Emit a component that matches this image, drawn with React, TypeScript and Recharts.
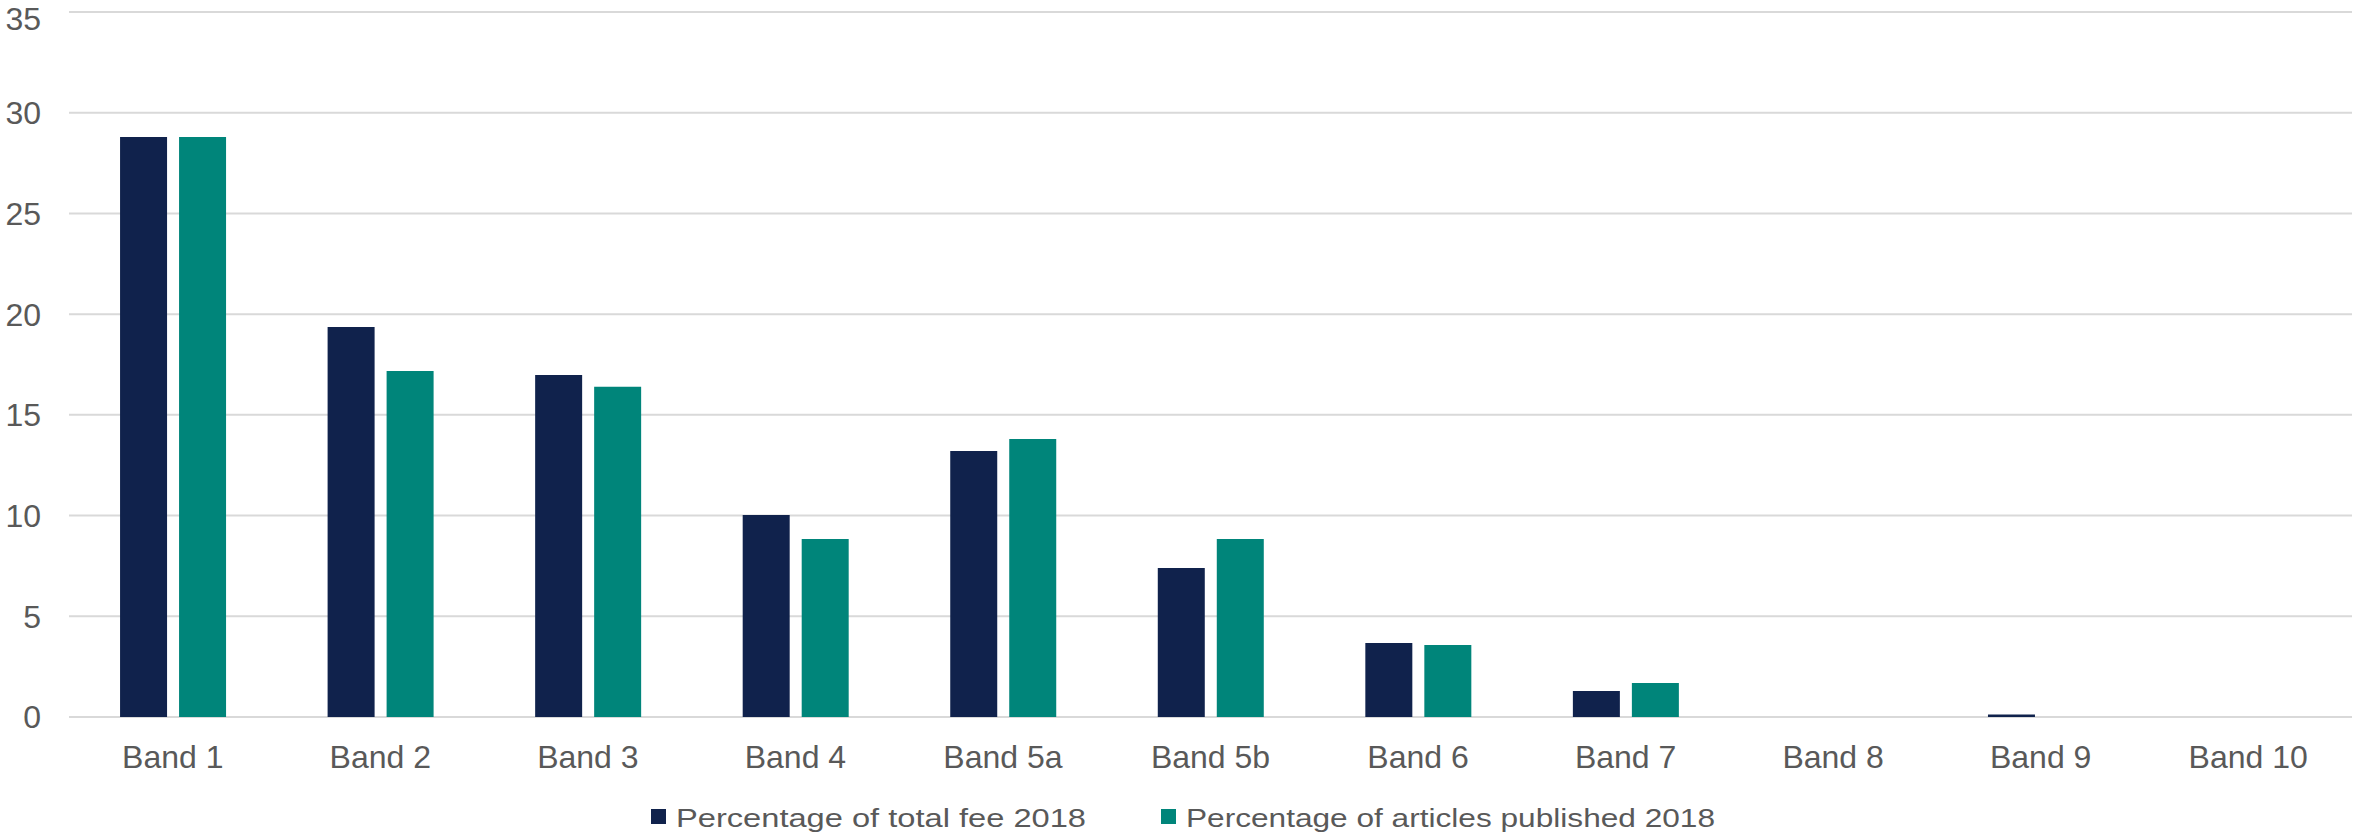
import React from 'react';
import { BarChart, Bar, XAxis, YAxis, CartesianGrid, Legend } from 'recharts';

const bands = ['Band 1', 'Band 2', 'Band 3', 'Band 4', 'Band 5a', 'Band 5b', 'Band 6', 'Band 7', 'Band 8', 'Band 9', 'Band 10'];
const totalFee = [28.8, 19.36, 16.98, 10.03, 13.21, 7.4, 3.67, 1.29, 0, 0.12, 0];
const articles = [28.8, 17.18, 16.39, 8.84, 13.8, 8.84, 3.57, 1.69, 0, 0, 0];
const yTicks = [0, 5, 10, 15, 20, 25, 30, 35];

const seriesNames = ['Percentage of total fee 2018', 'Percentage of articles published 2018'];
const NAVY = '#10224C';
const TEAL = '#00857A';
const TEXT = '#595959';
const FONT = '"Liberation Sans", Arial, sans-serif';

const data = bands.map((name, i) => ({ name, fee: totalFee[i], articles: articles[i] }));

// Legend text in the source is wider than its height suggests, so stretch it with textLength
const legendItems = [
  { label: seriesNames[0], color: NAVY, width: 410 },
  { label: seriesNames[1], color: TEAL, width: 529 },
];

function renderLegend() {
  return (
    <div style={{ display: 'flex', justifyContent: 'center', paddingLeft: 16 }}>
      {legendItems.map((item, i) => (
        <svg key={item.label} width={item.width + 27} height={40} style={{ marginLeft: i === 0 ? 0 : 73 }}>
          <rect x={0} y={13} width={15} height={15} fill={item.color} />
          <text
            x={25}
            y={31}
            fontSize={25}
            fill={TEXT}
            fontFamily={FONT}
            textLength={item.width}
            lengthAdjust="spacingAndGlyphs"
          >
            {item.label}
          </text>
        </svg>
      ))}
    </div>
  );
}

export default function App() {
  return (
    <div style={{ position: 'absolute', left: 0, top: 0, background: '#fff' }}>
      <BarChart
        width={2353}
        height={836}
        data={data}
        margin={{ top: 12, right: 1, bottom: 0, left: 0 }}
        barCategoryGap="24.6%"
        barGap={12}
      >
        <CartesianGrid vertical={false} stroke="#D9D9D9" strokeWidth={2} />
        <XAxis
          dataKey="name"
          axisLine={false}
          tickLine={false}
          tickSize={0}
          tickMargin={28}
          height={79}
          interval={0}
          tick={{ fontSize: 32, fill: TEXT, fontFamily: FONT }}
        />
        <YAxis
          domain={[0, 35]}
          ticks={yTicks}
          axisLine={false}
          tickLine={false}
          tickSize={0}
          tickMargin={28}
          width={69}
          tick={{ fontSize: 32, fill: TEXT, fontFamily: FONT }}
        />
        <Legend verticalAlign="bottom" height={40} content={renderLegend} />
        <Bar dataKey="fee" name={seriesNames[0]} fill={NAVY} isAnimationActive={false} />
        <Bar dataKey="articles" name={seriesNames[1]} fill={TEAL} isAnimationActive={false} />
      </BarChart>
    </div>
  );
}
